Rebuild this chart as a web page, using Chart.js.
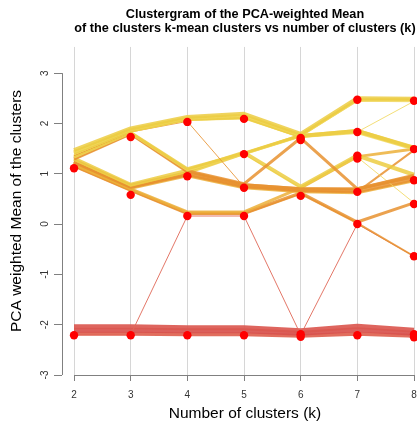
<!DOCTYPE html>
<html>
<head>
<meta charset="utf-8">
<script src="https://cdn.jsdelivr.net/npm/chart.js@4.4.0/dist/chart.umd.min.js"></script>
<style>
html, body { margin: 0; padding: 0; background: #fff; overflow: hidden; }
#wrap { width: 490px; height: 427px; }
</style>
</head>
<body>
<div id="wrap"><canvas id="clusterChart"></canvas></div>
<script>
// number of clusters on the x axis
const clusterCounts = [2, 3, 4, 5, 6, 7, 8];
const yTicks = [-3, -2, -1, 0, 1, 2, 3];

// cluster means (red dots) for each k
const clusterMeans = [
    [1.11, -2.21],
    [1.73, 0.58, -2.21],
    [2.03, 0.95, 0.16, -2.21],
    [2.09, 1.39, 0.72, 0.16, -2.21],
    [1.71, 1.67, 0.56, -2.19, -2.24],
    [2.47, 1.83, 1.36, 1.30, 0.64, 0.0, -2.21],
    [2.45, 1.49, 0.87, 0.40, -0.64, -2.19, -2.25]
];

// paths of groups of observations across k = 2..8
const paths = [
    [1.47, 1.90, 2.13, 2.19, 1.79, 2.50, 2.49],
    [1.44, 1.88, 2.11, 2.16, 1.77, 2.46, 2.45],
    [1.42, 1.86, 2.09, 2.13, 1.75, 1.85, 1.52],
    [1.40, 1.85, 2.08, 2.11, 1.74, 1.82, 1.49],
    [1.38, 1.84, 2.06, 2.10, 1.72, 1.83, 2.44],
    [1.36, 1.83, 2.04, 0.74, 0.70, 0.68, 0.92],
    [1.35, 1.82, 1.10, 1.41, 1.76, 2.47, 2.47],
    [1.33, 1.81, 1.08, 1.40, 1.75, 1.84, 1.50],
    [1.31, 1.80, 1.06, 0.80, 1.71, 0.70, 0.95],
    [1.29, 1.79, 1.04, 0.78, 0.70, 0.70, 0.97],
    [1.30, 0.78, 1.06, 1.42, 0.74, 1.36, 0.98],
    [1.27, 0.76, 1.03, 1.39, 0.72, 1.33, 0.42],
    [1.25, 0.75, 1.00, 0.76, 0.68, 0.66, 0.90],
    [1.23, 0.73, 0.98, 0.74, 0.66, 0.64, 1.47],
    [1.20, 0.71, 0.96, 0.72, 0.64, 0.62, 0.86],
    [1.22, 0.72, 1.02, 1.40, 1.76, 1.86, 1.52],
    [1.18, 0.70, 0.24, 0.24, 0.72, 1.34, 1.49],
    [1.16, 0.68, 0.22, 0.22, 0.62, 0.04, 0.42],
    [1.14, 0.66, 0.20, 0.20, 0.60, 0.02, -0.64],
    [-2.20, -2.20, 0.16, 0.16, -2.20, 0.00, -0.64],
    [-2.04, -2.04, -2.06, -2.06, -2.12, -2.03, -2.11],
    [-2.11, -2.11, -2.12, -2.12, -2.17, -2.10, -2.17],
    [-2.18, -2.18, -2.19, -2.19, -2.22, -2.18, -2.22]
];

// styling for each path
const Y = 'rgba(236,204,66,0.85)';
const Y2 = 'rgba(241,216,96,0.85)';
const OY = 'rgba(236,176,58,0.85)';
const O = 'rgba(232,146,48,0.85)';
const R = 'rgba(219,88,80,0.92)';
const pathColor = [Y, Y2, Y, Y2, Y2, O, Y, Y2, O, O, Y, Y2, O, O, OY, Y, OY, O, O, 'rgba(224,104,88,0.9)', R, 'rgba(216,82,78,0.92)', 'rgba(222,98,80,0.92)'];
const pathWidth = [4, 3, 4, 3, 1, 1, 3, 3, 3, 3, 4, 1, 5, 2, 3, 3, 3, 3, 2, 1, 5, 5, 4];

const datasets = [];
datasets.push({
    label: 'means',
    data: clusterMeans.flatMap((ms, i) => ms.map(m => ({x: clusterCounts[i], y: m}))),
    showLine: false,
    pointRadius: 4.2,
    pointBackgroundColor: '#ff0000',
    pointBorderWidth: 0,
    order: -1
});
paths.forEach((p, i) => {
    datasets.push({
        label: 'path' + i,
        data: p.map((v, j) => ({x: clusterCounts[j], y: v})),
        showLine: true,
        pointRadius: 0,
        borderColor: pathColor[i],
        borderWidth: pathWidth[i],
        borderJoinStyle: 'round',
        tension: 0
    });
});

const axisLines = {
    id: 'axisLines',
    afterDraw(chart) {
        const c = chart.ctx;
        const xs = chart.scales.x, ys = chart.scales.y;
        c.save();
        c.strokeStyle = '#808080';
        c.lineWidth = 1;
        c.beginPath();
        const yb = chart.chartArea.bottom + 0.5;
        c.moveTo(xs.getPixelForValue(2), yb);
        c.lineTo(xs.getPixelForValue(8), yb);
        const xl = chart.chartArea.left + 0.5;
        c.moveTo(xl, ys.getPixelForValue(3));
        c.lineTo(xl, ys.getPixelForValue(-3));
        c.stroke();
        c.fillStyle = '#333';
        c.font = '10px "Liberation Sans", Arial, sans-serif';
        c.textAlign = 'center';
        c.textBaseline = 'middle';
        yTicks.forEach(t => {
            c.save();
            c.translate(45, ys.getPixelForValue(t));
            c.rotate(-Math.PI / 2);
            c.fillText(String(t), 0, 0);
            c.restore();
        });
        c.restore();
    }
};

const ctx = document.getElementById('clusterChart').getContext('2d');
const myChart = new Chart(ctx, {
    type: 'scatter',
    data: { datasets: datasets },
    options: {
        responsive: true,
        maintainAspectRatio: false,
        animation: false,
        layout: { padding: { left: 0, right: 62, top: 0, bottom: 0 } },
        plugins: {
            legend: { display: false },
            tooltip: { enabled: false },
            title: {
                display: true,
                fullSize: false,
                text: ['Clustergram of the PCA-weighted Mean', 'of the clusters k-mean clusters vs number of clusters (k)'],
                color: '#000',
                font: { family: '"Liberation Sans", Arial, sans-serif', size: 12.7, weight: 'bold', lineHeight: 1.1 },
                padding: { top: 8, bottom: 11 }
            }
        },
        scales: {
            x: {
                type: 'linear',
                min: 1.788,
                max: 8.247,
                afterBuildTicks: s => { s.ticks = clusterCounts.map(v => ({value: v})); },
                afterFit: s => { s.height = 52; },
                border: { display: false },
                grid: { color: '#d6d6d6', lineWidth: 1, tickColor: '#808080', tickLength: 6 },
                ticks: {
                    color: '#333',
                    padding: 8,
                    maxRotation: 0,
                    font: { family: '"Liberation Sans", Arial, sans-serif', size: 10 }
                },
                title: {
                    display: true,
                    text: 'Number of clusters (k)',
                    color: '#000',
                    padding: { top: 0, bottom: 4 },
                    font: { family: '"Liberation Sans", Arial, sans-serif', size: 15.5 }
                }
            },
            y: {
                min: -3,
                max: 3.52,
                afterBuildTicks: s => { s.ticks = yTicks.map(v => ({value: v})); },
                afterFit: s => { s.width = 62; },
                border: { display: false },
                grid: { drawOnChartArea: false, tickColor: '#808080', tickLength: 8 },
                ticks: { display: false },
                title: {
                    display: true,
                    text: 'PCA weighted Mean of the clusters',
                    color: '#000',
                    padding: { top: 7, bottom: 0 },
                    font: { family: '"Liberation Sans", Arial, sans-serif', size: 15.5 }
                }
            }
        }
    },
    plugins: [axisLines]
});
</script>
</body>
</html>
